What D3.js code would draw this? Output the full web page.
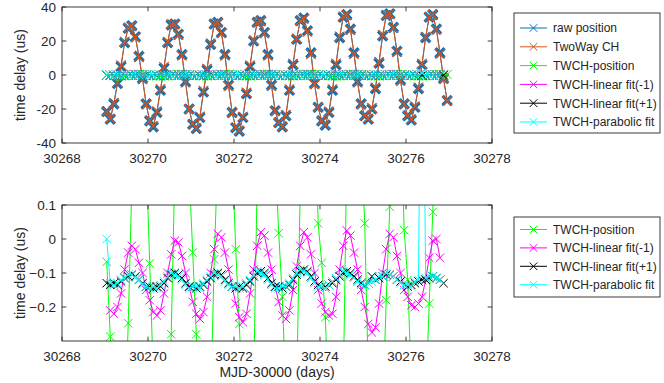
<!DOCTYPE html>
<html><head><meta charset="utf-8">
<script src="https://cdn.jsdelivr.net/npm/d3@7/dist/d3.min.js"></script>
<style>
body{margin:0;background:#fff}
svg text{font-family:"Liberation Sans",Arial,Helvetica,sans-serif;fill:#262626}
</style>
</head><body>
<svg id="chart" width="664" height="383"></svg>
<script>
// ---------------- DATA ----------------
const times = [
30269.040,30269.123,30269.207,30269.290,30269.373,30269.457,30269.540,30269.623,30269.707,30269.790,30269.873,30269.957,
30270.040,30270.123,30270.207,30270.290,30270.373,30270.457,30270.540,30270.623,30270.707,30270.790,30270.873,30270.957,
30271.040,30271.123,30271.207,30271.290,30271.373,30271.457,30271.540,30271.623,30271.707,30271.790,30271.873,30271.957,
30272.040,30272.123,30272.207,30272.290,30272.373,30272.457,30272.540,30272.623,30272.707,30272.790,30272.873,30272.957,
30273.040,30273.123,30273.207,30273.290,30273.373,30273.457,30273.540,30273.623,30273.707,30273.790,30273.873,30273.957,
30274.040,30274.123,30274.207,30274.290,30274.373,30274.457,30274.540,30274.623,30274.707,30274.790,30274.873,30274.957,
30275.040,30275.123,30275.207,30275.290,30275.373,30275.457,30275.540,30275.623,30275.707,30275.790,30275.873,30275.957,
30276.040,30276.123,30276.207,30276.290,30276.373,30276.457,30276.540,30276.623,30276.707,30276.790,30276.873,30276.957];

const rawPosition = [
-21.5,-26,-17,-5,5,19,27.5,29,22.5,11,-2,-17,
-27,-30.5,-22,-9,4,19,29.5,30,24,12,-4,-20,
-29,-31.5,-25,-10,3,18,30,31,25,12,-6,-22,
-31,-33,-25,-11,5,20,31,32,25,12,-6,-21,
-28,-30.5,-24,-9,6,21,32,33.5,26,13,-5,-19,
-27,-29.5,-22,-9,6,22,34,35.5,27,13,-4,-17,
-24,-26,-20,-8,7,23,35,36,28,14,-3,-17,
-24,-26.5,-19,-8,6,22,34,35.5,27,13,-2,-15];

const twoWayCH = [
-21.43,-25.71,-16.48,-4.32,5.72,19.6,27.75,28.85,22.08,10.45,-2.5,-17.25,
-26.93,-30.1,-21.38,-8.25,4.72,19.55,29.78,29.8,23.55,11.45,-4.45,-20.2,
-28.96,-31.22,-24.45,-9.3,3.72,18.5,30.06,30.75,24.5,11.4,-6.5,-22.25,
-30.97,-32.75,-24.5,-10.32,5.7,20.42,30.82,31.6,24.45,11.4,-6.5,-21.25,
-28.02,-30.33,-23.55,-8.35,6.68,21.45,31.85,33.05,25.4,12.4,-5.45,-19.05,
-26.93,-29.27,-21.5,-8.32,6.75,22.68,34.45,35.25,26.45,12.35,-4.5,-17.3,
-24.05,-25.6,-19.38,-7.28,7.7,23.5,35.18,35.9,27.6,13.45,-3.4,-17.03,
-23.88,-26.08,-18.4,-7.3,6.65,22.48,34.19,35.42,26.65,12.55,-2.35,-15.3];

const twchPosition = [
-0.067,-0.287,-0.52,-0.68,-0.72,-0.6,-0.248,0.15,0.42,0.55,0.5,0.25,
-0.072,-0.4,-0.62,-0.75,-0.72,-0.55,-0.28,0.2,0.45,0.55,0.45,0.2,
-0.04,-0.28,-0.55,-0.7,-0.72,-0.5,-0.06,0.25,0.5,0.6,0.5,0.25,
-0.03,-0.25,-0.5,-0.68,-0.7,-0.42,0.18,0.4,0.55,0.6,0.5,0.25,
0.017,-0.17,-0.45,-0.65,-0.68,-0.45,0.15,0.45,0.6,0.6,0.45,0.046,
-0.07,-0.23,-0.5,-0.68,-0.75,-0.68,-0.45,0.25,0.55,0.65,0.5,0.3,
0.046,-0.4,-0.62,-0.72,-0.7,-0.5,-0.18,0.095,0.4,0.55,0.4,0.026,
-0.12,-0.42,-0.6,-0.7,-0.65,-0.48,-0.19,0.08,0.35,0.45,0.35,0.3];

const twchLinearM1 = [
null,-0.21,-0.22,-0.2,-0.16,-0.09,-0.04,-0.02,-0.03,-0.07,-0.10,-0.15,
-0.18,-0.215,-0.225,-0.21,-0.16,-0.1,-0.045,-0.005,-0.01,-0.05,-0.1,-0.14,
-0.185,-0.22,-0.235,-0.215,-0.17,-0.1,-0.03,0.015,0.005,-0.04,-0.09,-0.14,
-0.19,-0.23,-0.245,-0.22,-0.16,-0.09,-0.02,0.02,0.01,-0.04,-0.09,-0.14,
-0.185,-0.225,-0.235,-0.21,-0.15,-0.08,-0.02,0.02,0.005,-0.045,-0.1,-0.15,
-0.19,-0.215,-0.225,-0.22,-0.17,-0.09,-0.02,0.025,0.01,-0.04,-0.09,-0.15,
-0.2,-0.25,-0.275,-0.26,-0.19,-0.1,-0.03,0.015,0.005,-0.05,-0.1,-0.15,
-0.17,-0.195,-0.2,-0.19,-0.17,-0.12,-0.055,-0.005,0.0,-0.055,null,null];

const twchLinearP1 = [
-0.13,-0.135,-0.13,-0.135,-0.125,-0.115,-0.11,-0.105,-0.11,-0.12,-0.13,-0.14,
-0.14,-0.145,-0.14,-0.14,-0.13,-0.115,-0.105,-0.10,-0.105,-0.115,-0.13,-0.14,
-0.14,-0.145,-0.14,-0.135,-0.125,-0.115,-0.105,-0.10,-0.105,-0.12,-0.13,-0.14,
-0.145,-0.14,-0.145,-0.135,-0.125,-0.11,-0.1,-0.095,-0.1,-0.115,-0.13,-0.14,
-0.14,-0.145,-0.14,-0.135,-0.12,-0.105,-0.095,-0.09,-0.095,-0.11,-0.125,-0.135,
-0.14,-0.14,-0.135,-0.13,-0.12,-0.11,-0.1,-0.095,-0.1,-0.11,-0.12,-0.13,
-0.135,-0.13,-0.11,-0.12,-0.115,-0.11,-0.105,-0.105,-0.11,-0.12,-0.125,-0.135,
-0.14,-0.135,-0.13,-0.125,-0.12,-0.12,-0.115,-0.11,-0.115,-0.12,-0.13,null];

const twchParabolic = [
0,-0.13,-0.135,-0.13,-0.12,-0.115,-0.105,-0.105,-0.115,-0.12,-0.135,-0.14,
-0.145,-0.14,-0.145,-0.135,-0.125,-0.11,-0.1,-0.105,-0.11,-0.12,-0.135,-0.145,
-0.14,-0.14,-0.145,-0.13,-0.12,-0.11,-0.1,-0.105,-0.11,-0.125,-0.135,-0.14,
-0.14,-0.145,-0.14,-0.13,-0.12,-0.105,-0.095,-0.1,-0.105,-0.12,-0.135,-0.145,
-0.145,-0.14,-0.14,-0.13,-0.115,-0.1,-0.09,-0.095,-0.1,-0.115,-0.13,-0.14,
-0.14,-0.145,-0.135,-0.125,-0.115,-0.105,-0.095,-0.1,-0.105,-0.115,-0.125,-0.135,
-0.135,-0.13,-0.125,-0.12,-0.11,-0.11,-0.1,-0.105,-0.11,-0.12,-0.13,-0.135,
-0.135,-0.14,-0.125,-0.12,1.0,-0.115,-0.11,-0.11,-0.115,-0.12,null,null];

const xTicks = [30268, 30270, 30272, 30274, 30276, 30278];
const yTicksTop = [-40, -20, 0, 20, 40];
const yTicksBottom = [-0.2, -0.1, 0, 0.1];
const legendTop = ["raw position", "TwoWay CH", "TWCH-position", "TWCH-linear fit(-1)", "TWCH-linear fit(+1)", "TWCH-parabolic fit"];
const legendBottom = ["TWCH-position", "TWCH-linear fit(-1)", "TWCH-linear fit(+1)", "TWCH-parabolic fit"];
const xLabel = "MJD-30000 (days)";
const yLabel = "time delay (us)";

// ---------------- STYLE ----------------
const COL = {
  raw: "#0072BD", two: "#D95319", pos: "#00FF00", m1: "#FF00FF", p1: "#000000", par: "#00FFFF"
};
const AX = "#262626";

const svg = d3.select("#chart");
const L = 62, R = 492;
const x = d3.scaleLinear().domain([30268, 30278]).range([L, R]);

function mk(arr){ return times.map((t,i)=>({t, v: arr[i]})); }
function xPath(s){ return `M${-s},${-s}L${s},${s}M${-s},${s}L${s},${-s}`; }

function drawPanel(id, top, bottom, ydom, yticks, series, fmt){
  const y = d3.scaleLinear().domain(ydom).range([bottom, top]);
  const g = svg.append("g");
  svg.append("clipPath").attr("id", id).append("rect")
    .attr("x", L).attr("y", top).attr("width", R-L).attr("height", bottom-top);
  const plot = g.append("g").attr("clip-path", `url(#${id})`);
  series.forEach(s => {
    const data = mk(s.values).filter(d => d.v !== null && d.v !== undefined);
    const line = d3.line().x(d=>x(d.t)).y(d=>y(d.v));
    plot.append("path").datum(data).attr("d", line)
      .attr("fill","none").attr("stroke", s.color).attr("stroke-width", s.lw || 1);
    plot.append("g").selectAll("path").data(data).join("path")
      .attr("transform", d=>`translate(${x(d.t)},${y(d.v)})`)
      .attr("d", xPath(s.ms || 4.2))
      .attr("fill","none").attr("stroke", s.color).attr("stroke-width", s.mw || 1);
  });
  g.append("rect").attr("x",L).attr("y",top).attr("width",R-L).attr("height",bottom-top)
    .attr("fill","none").attr("stroke",AX).attr("stroke-width",0.9);
  const tl = 4.3;
  xTicks.forEach(t => {
    const px = x(t);
    g.append("line").attr("x1",px).attr("x2",px).attr("y1",bottom).attr("y2",bottom-tl).attr("stroke",AX).attr("stroke-width",0.9);
    g.append("line").attr("x1",px).attr("x2",px).attr("y1",top).attr("y2",top+tl).attr("stroke",AX).attr("stroke-width",0.9);
    g.append("text").attr("x",px).attr("y",bottom+20).attr("text-anchor","middle")
      .style("font-size","13.5px").text(t);
  });
  yticks.forEach(v => {
    const py = y(v);
    g.append("line").attr("x1",L).attr("x2",L+tl).attr("y1",py).attr("y2",py).attr("stroke",AX).attr("stroke-width",0.9);
    g.append("line").attr("x1",R).attr("x2",R-tl).attr("y1",py).attr("y2",py).attr("stroke",AX).attr("stroke-width",0.9);
    g.append("text").attr("x",L-6).attr("y",py).attr("dy","0.35em").attr("text-anchor","end")
      .style("font-size","13.5px").text(fmt(v));
  });
  g.append("text").attr("transform",`translate(25,${(top+bottom)/2}) rotate(-90)`)
    .attr("text-anchor","middle").style("font-size","14px").text(yLabel);
  return y;
}

function drawLegend(x0, y0, w, h, first, step, items){
  const g = svg.append("g");
  g.append("rect").attr("x",x0).attr("y",y0).attr("width",w).attr("height",h)
    .attr("fill","#fff").attr("stroke",AX).attr("stroke-width",0.9);
  items.forEach((it,i) => {
    const yy = y0 + first + i*step;
    g.append("line").attr("x1",x0+6).attr("x2",x0+33).attr("y1",yy).attr("y2",yy)
      .attr("stroke",it.color).attr("stroke-width",1);
    g.append("path").attr("transform",`translate(${x0+19.5},${yy})`).attr("d",xPath(3.8))
      .attr("fill","none").attr("stroke",it.color).attr("stroke-width",1);
    g.append("text").attr("x",x0+39).attr("y",yy).attr("dy","0.36em")
      .style("font-size","12px").text(it.label);
  });
}

const fmtTop = d => String(d);
const fmtBot = d => d === 0 ? "0" : d3.format(".1f")(d);

drawPanel("clipTop", 7, 143, [-40, 40], yTicksTop, [
  {values: rawPosition, color: COL.raw, mw: 3.4, ms: 4.6},
  {values: twoWayCH, color: COL.two, mw: 1.2, ms: 4.8},
  {values: twchPosition, color: COL.pos, ms: 4.5},
  {values: twchLinearM1, color: COL.m1, ms: 4.5},
  {values: twchLinearP1, color: COL.p1, ms: 4.5},
  {values: twchParabolic, color: COL.par, ms: 4.5}
], fmtTop);

drawPanel("clipBot", 205, 341, [-0.3, 0.1], yTicksBottom, [
  {values: twchPosition, color: COL.pos},
  {values: twchLinearM1, color: COL.m1},
  {values: twchLinearP1, color: COL.p1},
  {values: twchParabolic, color: COL.par}
], fmtBot);

svg.append("text").attr("x",(L+R)/2).attr("y",377).attr("text-anchor","middle")
  .style("font-size","14px").text(xLabel);

const colsTop = [COL.raw, COL.two, COL.pos, COL.m1, COL.p1, COL.par];
drawLegend(514, 13, 146, 120, 15, 18.8, legendTop.map((l,i)=>({label:l, color:colsTop[i]})));
const colsBot = [COL.pos, COL.m1, COL.p1, COL.par];
drawLegend(514, 217, 146, 80, 12.5, 18.4, legendBottom.map((l,i)=>({label:l, color:colsBot[i]})));
</script>
</body></html>
